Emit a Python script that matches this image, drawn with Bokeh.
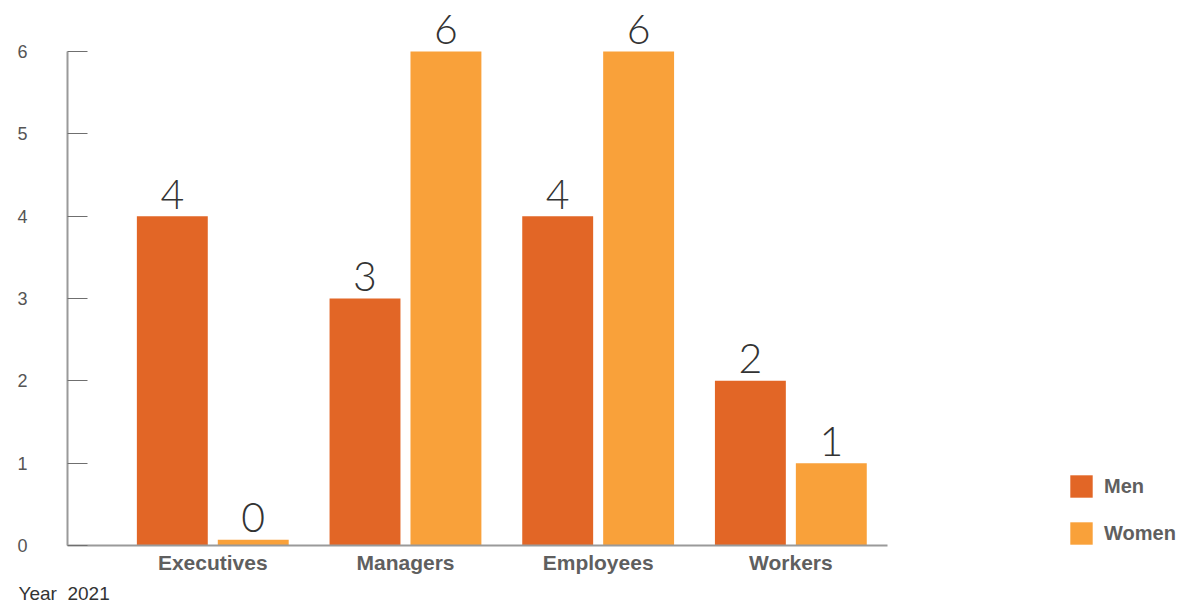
from bokeh.plotting import figure
from bokeh.models import ColumnDataSource, Range1d, FixedTicker, Legend, LegendItem, Title
from bokeh.core.properties import value
from bokeh.embed import file_html
from bokeh.resources import INLINE

# ---- data ----
categories = ["Executives", "Managers", "Employees", "Workers"]
men = [4, 3, 4, 2]
women = [0, 6, 6, 1]
series_names = ["Men", "Women"]
y_ticks = [0, 1, 2, 3, 4, 5, 6]
footnote = "Year\u00a0 2021"

# ---- style ----
MEN_COLOR = "#E26626"
WOMEN_COLOR = "#F9A13A"
BAR_W = 0.368
OFFSET = 0.21
MIN_SLIVER = 0.07   # zero values are drawn as a thin sliver, as in the reference
X_START, X_END, AXIS_END = -0.254, 5.517, 4.0
Y_END = 6.522
FONT = "Liberation Sans"
NUM_FONT = "Lato Light"

centers = [i + 0.5 for i in range(len(categories))]

def make_source(vals, shift):
    return ColumnDataSource(dict(
        x=[c + shift for c in centers],
        top=[max(v, MIN_SLIVER) for v in vals],
        label=[str(v) for v in vals],
    ))

src_men = make_source(men, -OFFSET)
src_women = make_source(women, OFFSET)

p = figure(width=1179, height=608,
           x_range=Range1d(X_START, X_END), y_range=Range1d(0, Y_END),
           output_backend="svg", toolbar_location=None,
           min_border_left=67, min_border_right=0, min_border_top=8, min_border_bottom=63)
p.outline_line_color = None
p.grid.visible = False
p.background_fill_color = "white"

r_men = p.vbar(x="x", top="top", bottom=0, width=BAR_W, source=src_men,
               fill_color=MEN_COLOR, line_color=None)
r_women = p.vbar(x="x", top="top", bottom=0, width=BAR_W, source=src_women,
                 fill_color=WOMEN_COLOR, line_color=None)

for src in (src_men, src_women):
    p.text(x="x", y="top", text="label", source=src, text_align="center",
           text_baseline="alphabetic", y_offset=-22, text_font=value(NUM_FONT),
           text_font_size="41px", text_color="#333333")

# y axis
ya = p.yaxis[0]
ya.ticker = FixedTicker(ticks=y_ticks)
ya.bounds = (0, max(y_ticks))
ya.major_tick_in = 20
ya.major_tick_out = 0
ya.minor_tick_line_color = None
ya.major_tick_line_color = "#6f6f6f"
ya.major_tick_line_width = 1
ya.axis_line_color = "#9a9a9a"
ya.axis_line_width = 2
ya.major_label_standoff = 40
ya.major_label_text_font = FONT
ya.major_label_text_font_size = "18px"
ya.major_label_text_color = "#555555"

# x axis
xa = p.xaxis[0]
xa.ticker = FixedTicker(ticks=centers)
xa.major_label_overrides = {c: name for c, name in zip(centers, categories)}
xa.bounds = (X_START, AXIS_END)
xa.major_tick_in = 0
xa.major_tick_out = 0
xa.minor_tick_line_color = None
xa.axis_line_color = "#9a9a9a"
xa.axis_line_width = 2
xa.major_label_standoff = 5
xa.major_label_text_font = FONT
xa.major_label_text_font_style = "bold"
xa.major_label_text_font_size = "21px"
xa.major_label_text_color = "#5f5f5f"

legend = Legend(items=[LegendItem(label=series_names[0], renderers=[r_men]),
                       LegendItem(label=series_names[1], renderers=[r_women])],
                location=(1000, -2), padding=0, margin=0, spacing=19,
                glyph_width=28, glyph_height=28, label_height=28, label_standoff=9,
                border_line_color=None, background_fill_alpha=0,
                label_text_font=FONT, label_text_font_style="bold",
                label_text_font_size="20px", label_text_color="#5f5f5f")
p.add_layout(legend)

p.add_layout(Title(text=footnote, align="left", offset=-49, standoff=8,
                   text_font=FONT, text_font_style="normal", text_font_size="19px",
                   text_color="#333333"), "below")

open("out.html", "w").write(file_html(p, INLINE))
